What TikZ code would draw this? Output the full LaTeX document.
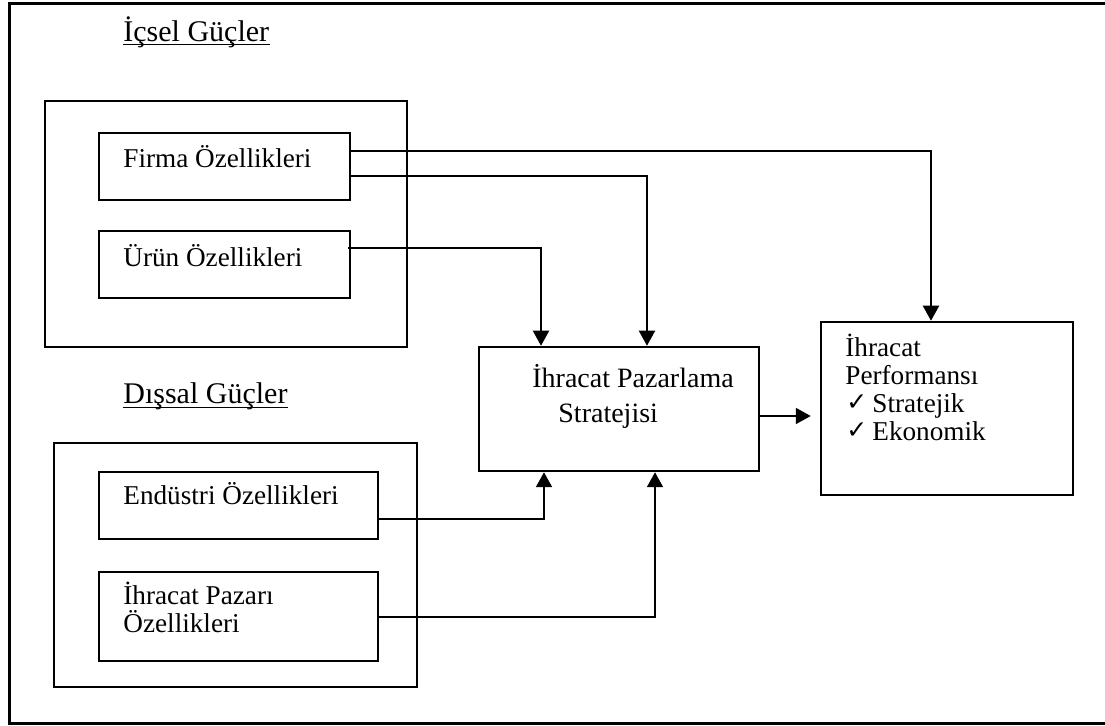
\documentclass[tikz,border=0pt]{standalone}
\usepackage{fontspec}
\setmainfont{Liberation Serif}
\newfontfamily\checkfont{DejaVu Sans}
\usetikzlibrary{arrows.meta,calc}
\begin{document}
\begin{tikzpicture}[x=0.5pt,y=-0.5pt,
  frame/.style={line width=1.5pt},
  box/.style={draw,line width=1.25pt,rectangle,inner sep=0pt},
  txt/.style={anchor=base west,inner sep=0pt,font=\fontsize{13.6}{16}\selectfont},
  head/.style={anchor=base west,inner sep=0pt,font=\fontsize{15}{18}\selectfont},
  tick/.style={anchor=base west,inner sep=0pt,font=\checkfont\fontsize{12.5}{14}\selectfont},
  uline/.style={line width=0.6pt},
  conn/.style={line width=1pt,-{Triangle[length=7.5pt,width=8pt]}},
  ]
\useasboundingbox (0,0) rectangle (1105,726);
% outer frame
\draw[frame] (9,4) rectangle (1120,724);

% group boxes
\node[box,minimum width=181pt,minimum height=123pt] (inner1) at (226,224) {};
\node[box,minimum width=181.5pt,minimum height=122pt] (inner2) at (235.5,565) {};

% factor boxes
\node[box,minimum width=125.5pt,minimum height=33.5pt] (firma) at (224.5,166.5) {};
\node[box,minimum width=125.5pt,minimum height=33.5pt] (urun) at (224.5,264.5) {};
\node[box,minimum width=139.5pt,minimum height=33.5pt] (endustri) at (238.5,505.5) {};
\node[box,minimum width=139.5pt,minimum height=44.5pt] (pazari) at (238.5,616.5) {};

% strategy and performance boxes
\node[box,minimum width=140pt,minimum height=62pt] (strat) at (619,409) {};
\node[box,minimum width=126pt,minimum height=86.5pt] (perf) at (947,408.5) {};

% headings
\node[head] (icsel) at (123,41.5) {İçsel Güçler};
\draw[uline] ($(icsel.base west)+(0,3)$) -- ($(icsel.base east)+(0,3)$);
\node[head] (dissal) at (123,404) {Dışsal Güçler};
\draw[uline] ($(dissal.base west)+(0,3.5)$) -- ($(dissal.base east)+(0,3.5)$);

% box texts
\node[txt] (tfirma) at (123,168) {Firma Özellikleri};
\node[txt] (turun) at (123,267) {Ürün Özellikleri};
\node[txt] (tend) at (123,505) {Endüstri Özellikleri};
\node[txt] (tpaz1) at (123,605) {İhracat Pazarı};
\node[txt] (tpaz2) at (123,633) {Özellikleri};
\node[txt,font=\fontsize{14}{16}\selectfont] (tstr1) at (532,388) {İhracat Pazarlama};
\node[txt,font=\fontsize{14}{16}\selectfont] (tstr2) at (558,423) {Stratejisi};
\node[txt] (tperf1) at (845,357) {İhracat};
\node[txt] (tperf2) at (845,385) {Performansı};
\node[tick] (tick1) at (846,411) {✓};
\node[txt] (tperf3) at (872,413) {Stratejik};
\node[tick] (tick2) at (846,439) {✓};
\node[txt] (tperf4) at (872,441) {Ekonomik};

% connectors
\draw[conn] ($(firma.east)+(0,-15.5)$) -| ($(perf.north)+(-16,0)$);
\draw[conn] ($(firma.east)+(0,9.5)$) -| ($(strat.north)+(28,0)$);
\draw[conn] ($(urun.east)+(-3,-16.5)$) -| ($(strat.north)+(-78,0)$);
\draw[conn] ($(endustri.east)+(-2,13.5)$) -| ($(strat.south)+(-75,0)$);
\draw[conn] ($(pazari.east)+(-2,0.5)$) -| ($(strat.south)+(36,0)$);
\draw[conn,shorten >=4.5pt] ($(strat.east)+(0,7)$) coordinate (sp) -- (sp -| perf.west);
\end{tikzpicture}
\end{document}
